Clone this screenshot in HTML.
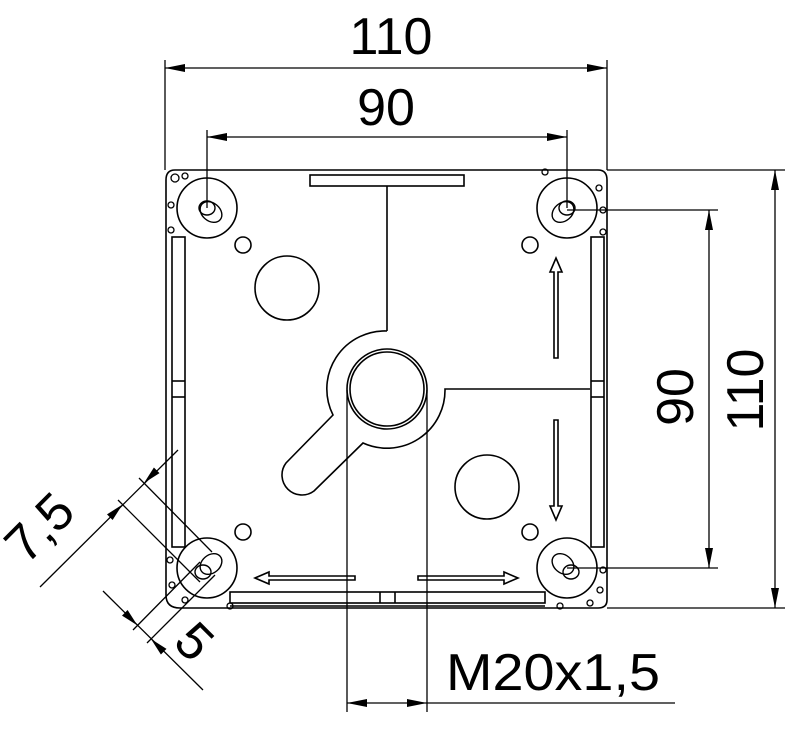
<!DOCTYPE html>
<html><head><meta charset="utf-8"><style>
html,body{margin:0;padding:0;background:#fff;}
svg{display:block;}
text{font-family:"Liberation Sans","DejaVu Sans",sans-serif;fill:#000;}
</style></head><body>
<svg width="800" height="729" viewBox="0 0 800 729" xmlns="http://www.w3.org/2000/svg">
<defs>
<marker id="ar" viewBox="0 0 20 8" refX="20" refY="4" markerWidth="20" markerHeight="8" markerUnits="userSpaceOnUse" orient="auto-start-reverse"><path d="M0,0 L20,4 L0,8 Z" fill="#000"/></marker>
</defs>
<g fill="none" stroke="#000" stroke-width="1.6">
<path d="M175,170 H598 Q607,170 607,180 V600 Q607,608 598,608 H180 Q166,608 166,595 V180 Q166,170 175,170 Z"/>
<rect x="310" y="175" width="154" height="11"/>
<line x1="387" y1="186" x2="387" y2="331"/>
<path d="M387,331 A58,58 0 0 0 333,415 L286,463 A20,20 0 0 0 314,491 L363,443 A58,58 0 0 0 445,389 H590"/>
<circle cx="387" cy="389" r="40"/>
<circle cx="387" cy="389" r="37"/>
<rect x="172" y="237" width="13" height="310"/>
<line x1="172" y1="381" x2="185" y2="381"/><line x1="172" y1="397" x2="185" y2="397"/>
<rect x="591" y="237" width="13" height="310"/>
<line x1="591" y1="381" x2="604" y2="381"/><line x1="591" y1="397" x2="604" y2="397"/>
<rect x="230" y="592" width="315" height="11"/>
<line x1="380" y1="592" x2="380" y2="603"/><line x1="395" y1="592" x2="395" y2="603"/>
<line x1="230" y1="606" x2="545" y2="606"/>
<circle cx="207" cy="208" r="30"/><circle cx="567" cy="208" r="30"/>
<circle cx="207" cy="568" r="30"/><circle cx="567" cy="568" r="30"/>
<g stroke-width="1.4">
<ellipse cx="211" cy="212" rx="12" ry="9" transform="rotate(40 211 212)"/><ellipse cx="207" cy="208" rx="8" ry="7"/>
<ellipse cx="563" cy="212" rx="12" ry="9" transform="rotate(-40 563 212)"/><ellipse cx="567" cy="208" rx="8" ry="7"/>
<ellipse cx="211" cy="564" rx="12" ry="9" transform="rotate(-40 211 564)"/><ellipse cx="203" cy="572" rx="8" ry="7"/>
<ellipse cx="563" cy="564" rx="12" ry="9" transform="rotate(40 563 564)"/><ellipse cx="571" cy="572" rx="8" ry="7"/>
</g>
<circle cx="243" cy="245" r="8"/><circle cx="530" cy="245" r="8"/>
<circle cx="243" cy="532" r="8"/><circle cx="530" cy="532" r="8"/>
<circle cx="287" cy="288" r="32"/><circle cx="487" cy="487" r="32"/>
<g stroke-width="1.3">
<circle cx="175" cy="178" r="4"/><circle cx="185" cy="176" r="3"/><circle cx="171" cy="205" r="3"/><circle cx="171" cy="230" r="3"/>
<circle cx="599" cy="188" r="3"/><circle cx="603" cy="210" r="3"/><circle cx="603" cy="232" r="3"/><circle cx="545" cy="172" r="3"/>
<circle cx="170" cy="560" r="3"/><circle cx="172" cy="585" r="3"/><circle cx="185" cy="600" r="3"/><circle cx="230" cy="606" r="3"/>
<circle cx="603" cy="570" r="3"/><circle cx="600" cy="590" r="3"/><circle cx="590" cy="603" r="3"/><circle cx="560" cy="606" r="3"/>
</g>
<path d="M554,358 V272 H550 L556,258 L562,272 H558 V358 Z"/>
<path d="M554,420 V506 H550 L556,520 L562,506 H558 V420 Z"/>
<path d="M355,576 H269 V572 L255,578 L269,584 V580 H355 Z"/>
<path d="M418,576 H504 V572 L518,578 L504,584 V580 H418 Z"/>
</g>
<g fill="none" stroke="#000" stroke-width="1.3">
<line x1="165" y1="60" x2="165" y2="170"/><line x1="607" y1="60" x2="607" y2="170"/>
<line x1="165" y1="68" x2="607" y2="68" marker-start="url(#ar)" marker-end="url(#ar)"/>
<line x1="207" y1="130" x2="207" y2="208"/><line x1="567" y1="130" x2="567" y2="208"/>
<line x1="207" y1="137" x2="567" y2="137" marker-start="url(#ar)" marker-end="url(#ar)"/>
<line x1="607" y1="170" x2="785" y2="170"/><line x1="607" y1="608" x2="785" y2="608"/>
<line x1="775" y1="170" x2="775" y2="608" marker-start="url(#ar)" marker-end="url(#ar)"/>
<line x1="567" y1="210" x2="718" y2="210"/><line x1="567" y1="568" x2="718" y2="568"/>
<line x1="709" y1="210" x2="709" y2="568" marker-start="url(#ar)" marker-end="url(#ar)"/>
<line x1="347" y1="390" x2="347" y2="712"/><line x1="427" y1="390" x2="427" y2="712"/>
<line x1="347" y1="703" x2="427" y2="703" marker-start="url(#ar)" marker-end="url(#ar)"/>
<line x1="427" y1="703" x2="675" y2="703"/>
<line x1="139" y1="478" x2="212" y2="552"/>
<line x1="118" y1="500" x2="200" y2="582"/>
<line x1="40" y1="587" x2="178" y2="450"/>
<line x1="133" y1="630" x2="200" y2="562"/>
<line x1="147" y1="643" x2="215" y2="575"/>
<line x1="103" y1="591" x2="203" y2="690"/>
</g>
<g fill="#000">
<path d="M144,483 L159.5,473.1 L153.9,467.5 Z"/>
<path d="M122.5,504.5 L112.6,520 L107,514.4 Z"/>
<path d="M137.5,625.5 L127.6,610 L122,615.6 Z"/>
<path d="M151,639 L166.5,648.9 L160.9,654.5 Z"/>
</g>
<text x="391" y="54" font-size="52" text-anchor="middle">110</text>
<text x="386" y="125" font-size="52" text-anchor="middle">90</text>
<text x="763" y="390" font-size="52" text-anchor="middle" transform="rotate(-90 763 390)">110</text>
<text x="693" y="397" font-size="52" text-anchor="middle" transform="rotate(-90 693 397)">90</text>
<text x="52" y="540" font-size="52" text-anchor="middle" transform="rotate(-45 52 540)">7,5</text>
<text x="196" y="660" font-size="52" text-anchor="middle" transform="rotate(45 196 640)">5</text>
<text x="446" y="690" font-size="52" textLength="214" lengthAdjust="spacingAndGlyphs">M20x1,5</text>
</svg>
</body></html>
